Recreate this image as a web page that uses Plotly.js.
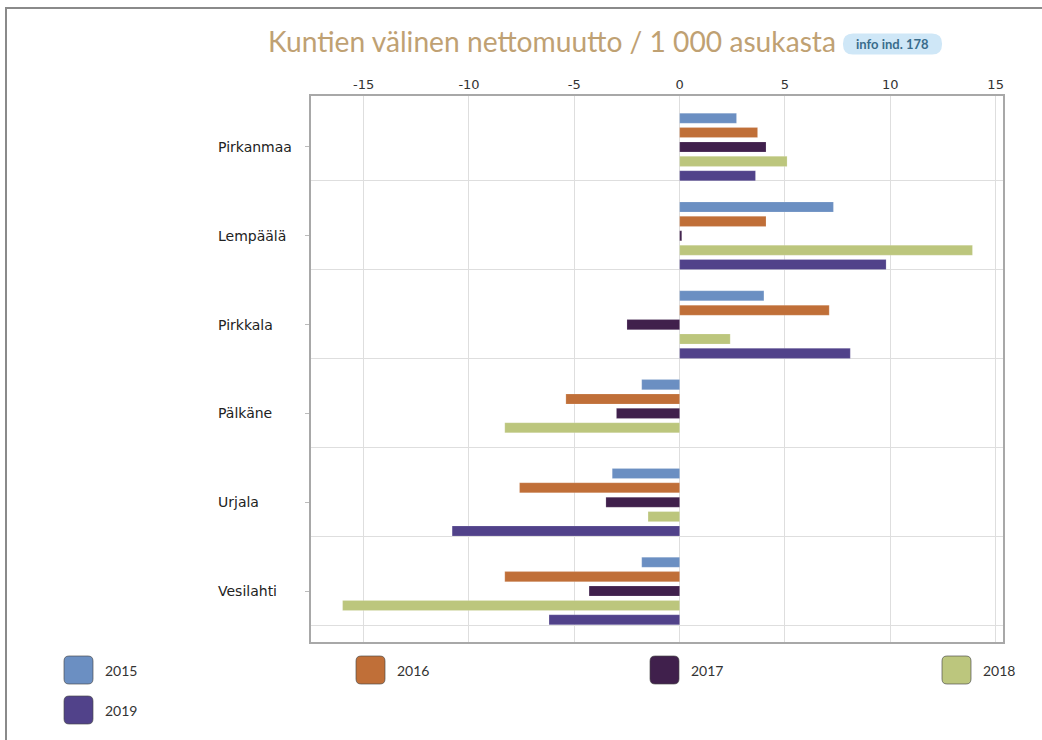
<!DOCTYPE html>
<html>
<head>
<meta charset="utf-8">
<script src="https://cdn.plot.ly/plotly-3.0.1.min.js"></script>
<style>
  html, body { margin: 0; padding: 0; background: #fff; }
  #wrap { position: relative; width: 1042px; height: 740px; overflow: hidden; }
  #frame { position: absolute; left: 5px; top: 7px; right: -10px; bottom: -10px;
           border-top: 2px solid #8a8a8a; border-left: 2px solid #8a8a8a; z-index: 0; }
  #chart { position: absolute; left: 0; top: 0; width: 1042px; height: 740px; z-index: 1; }
</style>
</head>
<body>
<div id="wrap"><div id="frame"></div><div id="chart"></div></div>
<script>
// ---- data ----
const categories = ['Pirkanmaa', 'Lempäälä', 'Pirkkala', 'Pälkäne', 'Urjala', 'Vesilahti'];
const years = ['2015', '2016', '2017', '2018', '2019'];
const v2015 = [2.7, 7.3, 4.0, -1.8, -3.2, -1.8];
const v2016 = [3.7, 4.1, 7.1, -5.4, -7.6, -8.3];
const v2017 = [4.1, 0.1, -2.5, -3.0, -3.5, -4.3];
const v2018 = [5.1, 13.9, 2.4, -8.3, -1.5, -16.0];
const v2019 = [3.6, 9.8, 8.1, null, -10.8, -6.2];
const xTickVals = [-15, -10, -5, 0, 5, 10, 15];
const xTickText = ['-15', '-10', '-5', '0', '5', '10', '15'];
const titleText = 'Kuntien välinen nettomuutto / 1 000 asukasta';
const badgeText = 'info ind. 178';

const seriesValues = [v2015, v2016, v2017, v2018, v2019];
const colors = ['#6b8fc2', '#c06f38', '#40204c', '#bcc67d', '#51428a'];

// ---- geometry (pixels) ----
const W = 1042, H = 740;
const L = 311, R = 1003, T = 96, B = 642;
const pw = R - L, ph = B - T;
const px2x = p => (p - L) / pw;
const py2y = p => (B - p) / ph;

const traces = years.map((yr, i) => ({
  type: 'bar',
  orientation: 'h',
  name: yr,
  x: seriesValues[i],
  y: categories,
  marker: { color: colors[i], line: { color: 'rgba(255,255,255,0.35)', width: 0.5 } },
  showlegend: false,
  hoverinfo: 'x+name'
}));
// dummy trace for grid axis
traces.push({ type: 'scatter', x: [], y: [], yaxis: 'y2', showlegend: false, hoverinfo: 'skip' });

const n = categories.length;
const pad = 0.574;
const gridOffset = 0.383;
const gridVals = categories.map((c, i) => i + gridOffset);

const annotations = [];
const shapes = [];

function roundRectPath(w, h, r) {
  const hw = w / 2, hh = h / 2;
  return `M ${-hw + r} ${-hh} L ${hw - r} ${-hh} Q ${hw} ${-hh} ${hw} ${-hh + r} ` +
         `L ${hw} ${hh - r} Q ${hw} ${hh} ${hw - r} ${hh} L ${-hw + r} ${hh} ` +
         `Q ${-hw} ${hh} ${-hw} ${hh - r} L ${-hw} ${-hh + r} Q ${-hw} ${-hh} ${-hw + r} ${-hh} Z`;
}

// category labels (left aligned)
categories.forEach(c => {
  annotations.push({
    xref: 'paper', yref: 'y', x: px2x(216), y: c, xanchor: 'left', yanchor: 'middle',
    text: c, showarrow: false, font: { family: 'DejaVu Sans', size: 14, color: '#222' }
  });
});

// badge
shapes.push({
  type: 'path', xref: 'paper', yref: 'paper', xsizemode: 'pixel', ysizemode: 'pixel',
  xanchor: px2x(892.5), yanchor: py2y(44), path: roundRectPath(99, 21, 10),
  fillcolor: '#cfe7f7', line: { width: 0 }
});
annotations.push({
  xref: 'paper', yref: 'paper', x: px2x(892.5), y: py2y(44), xanchor: 'center', yanchor: 'middle',
  text: '<b>' + badgeText + '</b>', showarrow: false,
  font: { family: 'Lato', size: 13, color: '#3a6d8c' }
});

// custom legend
const legCols = [64, 356, 650, 942];
const legRows = [656, 696];
const bw = 29, bh = 28;
years.forEach((yr, i) => {
  const col = i % 4, row = Math.floor(i / 4);
  const x0 = legCols[col], y0 = legRows[row];
  const cx = x0 + bw / 2, cy = y0 + bh / 2;
  shapes.push({
    type: 'path', xref: 'paper', yref: 'paper', xsizemode: 'pixel', ysizemode: 'pixel',
    xanchor: px2x(cx), yanchor: py2y(cy), path: roundRectPath(bw, bh, 5),
    fillcolor: colors[i], line: { color: 'rgba(70,70,70,0.65)', width: 1 }
  });
  annotations.push({
    xref: 'paper', yref: 'paper', x: px2x(x0 + 39), y: py2y(cy), xanchor: 'left', yanchor: 'middle',
    text: yr, showarrow: false, font: { family: 'Lato', size: 14, color: '#333' }
  });
});

const layout = {
  width: W, height: H,
  margin: { l: L, r: W - R, t: T, b: H - B, pad: 0 },
  paper_bgcolor: 'rgba(0,0,0,0)',
  plot_bgcolor: '#fff',
  barmode: 'group',
  bargap: 0.19,
  bargroupgap: 0.3,
  title: {
    text: titleText,
    font: { family: 'Lato', size: 28.2, color: '#bfa173' },
    xref: 'container', yref: 'container',
    x: 268 / W, xanchor: 'left', y: 1 - 42 / H, yanchor: 'middle'
  },
  xaxis: {
    side: 'top',
    range: [-17.5, 15.35],
    tickvals: xTickVals, ticktext: xTickText,
    showgrid: true, gridcolor: '#dedede', gridwidth: 1,
    zeroline: false,
    showline: true, linecolor: '#a8a8a8', linewidth: 2, mirror: true,
    ticks: '',
    tickfont: { family: 'DejaVu Sans', size: 13, color: '#333' },
    fixedrange: true
  },
  yaxis: {
    type: 'category',
    categoryorder: 'array', categoryarray: categories,
    range: [n - 1 + pad, -pad],
    showgrid: false, zeroline: false,
    showline: true, linecolor: '#a8a8a8', linewidth: 2, mirror: true,
    ticks: 'outside', ticklen: 4, tickcolor: '#bbb',
    showticklabels: false,
    fixedrange: true
  },
  yaxis2: {
    overlaying: 'y', anchor: 'x',
    range: [n - 1 + pad, -pad],
    tickvals: gridVals,
    showgrid: true, gridcolor: '#dedede', gridwidth: 1,
    showticklabels: false, ticks: '', zeroline: false, showline: false,
    fixedrange: true
  },
  annotations: annotations,
  shapes: shapes,
  showlegend: false
};

Plotly.newPlot('chart', traces, layout, { displayModeBar: false, staticPlot: true });
</script>
</body>
</html>
